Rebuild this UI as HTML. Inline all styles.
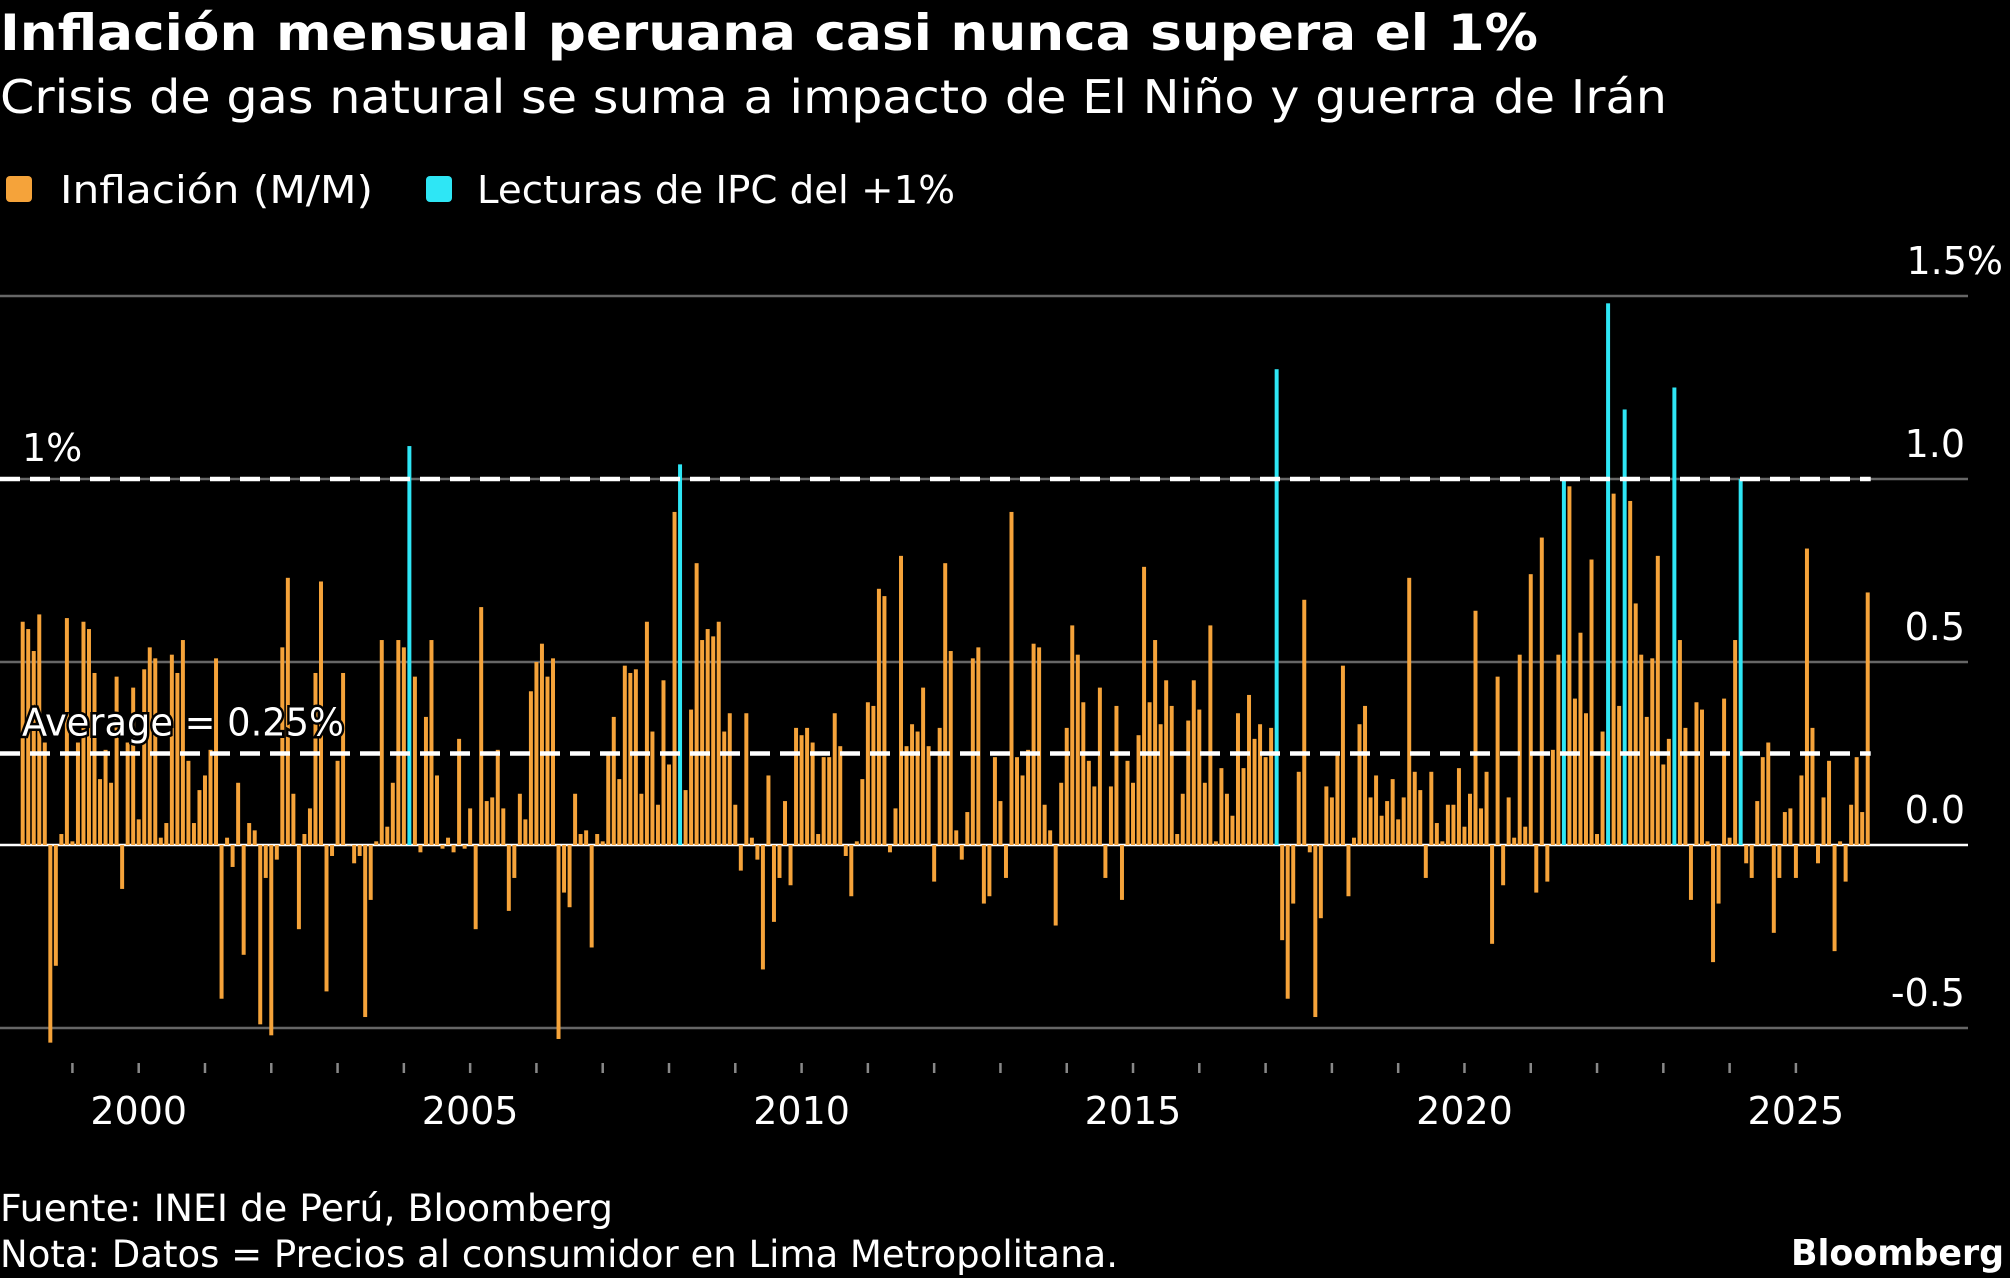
<!DOCTYPE html>
<html><head><meta charset="utf-8">
<style>
html,body{margin:0;padding:0;background:#000;}
svg{display:block;font-family:"DejaVu Sans","Liberation Sans",sans-serif;}
</style></head>
<body>
<svg id="chart" width="2010" height="1278" viewBox="0 0 2010 1278" xmlns="http://www.w3.org/2000/svg">
<rect width="2010" height="1278" fill="#000"/>
<text x="0" y="50" fill="#fff" font-size="50" font-weight="bold" textLength="1538" lengthAdjust="spacingAndGlyphs">Inflación mensual peruana casi nunca supera el 1%</text>
<text x="0" y="113" fill="#fff" font-size="46" textLength="1667" lengthAdjust="spacingAndGlyphs">Crisis de gas natural se suma a impacto de El Niño y guerra de Irán</text>
<g>
<rect x="6" y="176" width="26" height="26" rx="4" fill="#f5a33a"/>
<text x="60" y="203" fill="#fff" font-size="38" textLength="313" lengthAdjust="spacingAndGlyphs">Inflación (M/M)</text>
<rect x="426" y="176" width="26" height="26" rx="4" fill="#2ee6f5"/>
<text x="477" y="203" fill="#fff" font-size="38" textLength="478" lengthAdjust="spacingAndGlyphs">Lecturas de IPC del +1%</text>
</g>
<g id="grid"></g>
<g id="bars"></g>
<g id="refs"></g>
<g id="xaxis"></g>
<text x="0" y="1221" fill="#fff" font-size="37" textLength="613" lengthAdjust="spacingAndGlyphs">Fuente: INEI de Perú, Bloomberg</text>
<text x="0" y="1267" fill="#fff" font-size="37" textLength="1118" lengthAdjust="spacingAndGlyphs">Nota: Datos = Precios al consumidor en Lima Metropolitana.</text>
<text x="2004" y="1265" fill="#fff" font-size="36" font-weight="bold" text-anchor="end" textLength="213" lengthAdjust="spacingAndGlyphs">Bloomberg</text>
</svg>
<script>
const startYear = 1998;
const startMonth = 4;
const yTicks = [1.5, 1.0, 0.5, 0.0, -0.5];
const yTickLabels = ["1.5%", "1.0", "0.5", "0.0", "-0.5"];
const xYearLabels = [2000, 2005, 2010, 2015, 2020, 2025];
const averageValue = 0.25;
const thresholdValue = 1.0;
const inflation = [
0.61,0.59,0.53,0.63,0.28,-0.54,-0.33,0.03,0.62,0.01,
0.28,0.61,0.59,0.47,0.18,0.26,0.17,0.46,-0.12,0.28,
0.43,0.07,0.48,0.54,0.51,0.02,0.06,0.52,0.47,0.56,
0.23,0.06,0.15,0.19,0.26,0.51,-0.42,0.02,-0.06,0.17,
-0.30,0.06,0.04,-0.49,-0.09,-0.52,-0.04,0.54,0.73,0.14,
-0.23,0.03,0.10,0.47,0.72,-0.40,-0.03,0.23,
0.47,0.00,-0.05,-0.03,-0.47,-0.15,0.01,0.56,0.05,0.17,
0.56,0.54,1.09,0.46,-0.02,0.35,0.56,0.19,-0.01,0.02,
-0.02,0.29,-0.01,0.10,-0.23,0.65,0.12,0.13,0.26,0.10,
-0.18,-0.09,0.14,0.07,0.42,0.50,0.55,0.46,0.51,-0.53,
-0.13,-0.17,0.14,0.03,0.04,-0.28,0.03,0.01,0.25,0.35,
0.18,0.49,0.47,0.48,0.14,0.61,0.31,0.11,0.45,0.22,
0.91,1.04,0.15,0.37,0.77,0.56,0.59,0.57,0.61,0.31,
0.36,0.11,-0.07,0.36,0.02,-0.04,-0.34,0.19,-0.21,-0.09,
0.12,-0.11,0.32,0.30,0.32,0.28,0.03,0.24,0.24,0.36,
0.27,-0.03,-0.14,0.01,0.18,0.39,0.38,0.70,0.68,-0.02,
0.10,0.79,0.27,0.33,0.31,0.43,0.27,-0.10,0.32,0.77,
0.53,0.04,-0.04,0.09,0.51,0.54,-0.16,-0.14,
0.24,0.12,-0.09,0.91,0.24,0.19,0.26,0.55,0.54,0.11,
0.04,-0.22,0.17,0.32,0.60,0.52,0.39,0.23,0.16,0.43,
-0.09,0.16,0.38,-0.15,0.23,0.17,0.30,0.76,0.39,0.56,
0.33,0.45,0.38,0.03,0.14,0.34,0.45,0.37,0.17,0.60,
0.01,0.21,0.14,0.08,0.36,0.21,0.41,0.29,0.33,0.24,
0.32,1.30,-0.26,-0.42,-0.16,0.20,0.67,-0.02,-0.47,-0.20,0.16,
0.13,0.25,0.49,-0.14,0.02,0.33,0.38,0.13,0.19,0.08,
0.12,0.18,0.07,0.13,0.73,0.20,0.15,-0.09,0.20,0.06,
0.01,0.11,0.11,0.21,0.05,0.14,0.64,0.10,0.20,-0.27,
0.46,-0.11,0.13,0.02,0.52,0.05,0.74,-0.13,0.84,-0.10,
0.26,0.52,1.00,0.98,0.40,0.58,0.36,0.78,0.03,0.31,
1.48,0.96,0.38,1.19,0.94,0.66,0.52,0.35,0.51,0.79,
0.22,0.29,1.25,0.56,0.32,-0.15,0.39,0.37,0.01,-0.32,
-0.16,0.40,0.02,0.56,1.00,-0.05,-0.09,0.12,0.24,0.28,
-0.24,-0.09,0.09,0.10,-0.09,0.19,0.81,0.32,-0.05,0.13,
0.23,-0.29,0.01,-0.10,0.11,0.24,0.09,0.69
];

const NS = "http://www.w3.org/2000/svg";
const plotLeft = 0, plotRight = 1968;
const x0 = 22.7, pitch = 5.524;
function xScale(i){ return x0 + i * pitch; }
function yScale(v){ return 845 - v * 366; }
function mk(tag, attrs, parent){
  const e = document.createElementNS(NS, tag);
  for (const k in attrs) e.setAttribute(k, attrs[k]);
  parent.appendChild(e);
  return e;
}
const grid = document.getElementById('grid');
yTicks.forEach((t, k) => {
  const y = yScale(t);
  const ln = mk('line', {x1: plotLeft, x2: plotRight, y1: y, y2: y, stroke: t === 0 ? '#ffffff' : '#666', 'stroke-width': 2.5}, grid);
  
  
  const lb = mk('text', {x: t === 1.5 ? 2003 : 1965, y: y - 22, fill: '#fff', 'font-size': 38, 'text-anchor': 'end'}, grid);
  lb.textContent = yTickLabels[k];
  
  
});
const bars = document.getElementById('bars');
const bw = pitch * 0.72;
inflation.forEach((v, i) => {
  const cx = xScale(i);
  const y = Math.min(yScale(v), yScale(0));
  const h = Math.abs(yScale(v) - yScale(0));
  const r = mk('rect', {x: cx - bw / 2, y: y, width: bw, height: Math.max(h, 0.5), fill: v >= thresholdValue ? '#2ee6f5' : '#f5a33a'}, bars);
  
  
});
const refs = document.getElementById('refs');
const refEnd = xScale(inflation.length - 1) + 3;
[[thresholdValue, 'threshold-line'], [averageValue, 'average-line']].forEach(([v, nm]) => {
  const y = yScale(v);
  const ln = mk('line', {x1: 0, x2: refEnd, y1: y, y2: y, stroke: '#fff', 'stroke-width': 4.5, 'stroke-dasharray': '20 10'}, refs);
  
  
});
const t1 = mk('text', {x: 22, y: yScale(thresholdValue) - 18, fill: '#fff', 'font-size': 38}, refs);
t1.textContent = '1%';


const t2 = mk('text', {x: 22, y: yScale(averageValue) - 18, fill: '#fff', 'font-size': 38, stroke: '#000', 'stroke-width': 5, 'paint-order': 'stroke', textLength: 322, lengthAdjust: 'spacingAndGlyphs'}, refs);
t2.textContent = 'Average = ' + averageValue.toFixed(2) + '%';


const xa = document.getElementById('xaxis');
for (let yr = 1999; yr <= 2025; yr++) {
  const idx = (yr - startYear) * 12 - (startMonth - 1);
  const x = xScale(idx);
  const tk = mk('line', {x1: x, x2: x, y1: 1063, y2: 1073, stroke: '#888', 'stroke-width': 2.5}, xa);
  
  
  if (xYearLabels.indexOf(yr) >= 0) {
    const lb = mk('text', {x: x, y: 1124, fill: '#fff', 'font-size': 38, 'text-anchor': 'middle'}, xa);
    lb.textContent = String(yr);
    
    
  }
}
</script>
</body></html>
